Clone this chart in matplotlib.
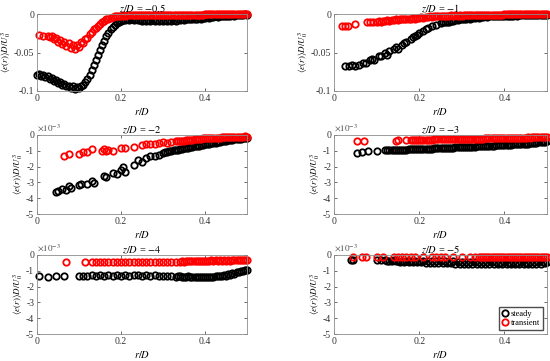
import matplotlib
matplotlib.use("Agg")
import matplotlib.pyplot as plt

plt.rcParams['font.family'] = ['Liberation Serif', 'DejaVu Serif']
plt.rcParams['mathtext.fontset'] = 'stix'
plt.rcParams['axes.unicode_minus'] = False

# ---- data ----
r_grid = [0.00, 0.01, 0.02, 0.03, 0.04, 0.05, 0.06, 0.07, 0.08, 0.09,
          0.10, 0.11, 0.12, 0.13, 0.14, 0.15, 0.16, 0.17, 0.18, 0.19,
          0.20, 0.21, 0.22, 0.23, 0.24, 0.25, 0.26, 0.27, 0.28, 0.29,
          0.30, 0.31, 0.32, 0.33, 0.34, 0.35, 0.36, 0.37, 0.38, 0.39,
          0.40, 0.41, 0.42, 0.43, 0.44, 0.45, 0.46, 0.47, 0.48, 0.49, 0.50]
# second set of sample positions where the measured points are dense
r_half = [0.005, 0.015, 0.025, 0.035, 0.045, 0.055, 0.065, 0.075, 0.085, 0.095,
          0.105, 0.115, 0.125, 0.135, 0.145, 0.155, 0.165, 0.175, 0.185, 0.195,
          0.205, 0.215, 0.225, 0.235, 0.245, 0.255, 0.265, 0.275, 0.285, 0.295,
          0.305, 0.315, 0.325, 0.335, 0.345, 0.355, 0.365, 0.375, 0.385, 0.395,
          0.405, 0.415, 0.425, 0.435, 0.445, 0.455, 0.465, 0.475, 0.485, 0.495]

# z/D = -0.5
steady_05 = [-0.079, -0.080, -0.082, -0.084, -0.087, -0.089, -0.092, -0.094, -0.096, -0.097,
             -0.096, -0.092, -0.084, -0.073, -0.060, -0.047, -0.035, -0.025, -0.017, -0.012,
             -0.009, -0.008, -0.008, -0.008, -0.008, -0.009, -0.009, -0.009, -0.009, -0.009,
             -0.009, -0.009, -0.009, -0.009, -0.008, -0.008, -0.007, -0.007, -0.006, -0.006,
             -0.005, -0.005, -0.004, -0.004, -0.003, -0.003, -0.002, -0.002, -0.001, -0.001, -0.001]
steady_05_b = [-0.078, -0.079, -0.081, -0.083, -0.086, -0.088, -0.091, -0.093, -0.094, -0.095,
               -0.093, -0.088, -0.079, -0.066, -0.053, -0.040, -0.029, -0.020, -0.014, -0.010,
               -0.008, -0.007, -0.007, -0.007, -0.008, -0.008, -0.008, -0.008, -0.008, -0.008,
               -0.008, -0.008, -0.008, -0.007, -0.007, -0.007, -0.006, -0.006, -0.005, -0.005,
               -0.004, -0.004, -0.003, -0.003, -0.002, -0.002, -0.001, -0.001, -0.001, 0.000]
r_trans_05 = [0.005, 0.015] + r_grid[3:]
trans_05 = [-0.027, -0.029,
            -0.030, -0.033, -0.036, -0.039, -0.042, -0.044, -0.045,
            -0.043, -0.038, -0.031, -0.024, -0.018, -0.013, -0.009, -0.006, -0.004, -0.003,
            -0.002, -0.002, -0.001, -0.001, -0.001, -0.001, -0.001, -0.001, -0.001, -0.001,
            -0.001, -0.001, -0.001, -0.001, -0.001, -0.001, -0.001, -0.001, -0.001, -0.001,
            0.000, 0.000, 0.000, 0.000, 0.000, 0.000, 0.000, 0.000, 0.000, 0.000, 0.000]
trans_05_b = [-0.028, -0.029, -0.031, -0.034, -0.036, -0.038, -0.040, -0.040,
              -0.037, -0.032, -0.026, -0.020, -0.015, -0.010, -0.007, -0.005, -0.003, -0.002,
              -0.001, -0.001, -0.001, -0.001, -0.001, -0.001, -0.001, -0.001, -0.001, -0.001,
              -0.001, -0.001, -0.001, -0.001, -0.001, -0.001, -0.001, -0.001, -0.001, -0.001,
              0.000, 0.000, 0.000, 0.000, 0.000, 0.000, 0.000, 0.000, 0.000, 0.000]

# z/D = -1
r_steady_1 = [0.026, 0.035, 0.042, 0.050, 0.058, 0.068, 0.075, 0.085, 0.090, 0.095,
              0.105, 0.110, 0.120, 0.125, 0.130, 0.140, 0.145, 0.150, 0.160, 0.165,
              0.170, 0.180, 0.185, 0.190, 0.195, 0.200, 0.210, 0.215, 0.220, 0.230,
              0.240, 0.250, 0.260, 0.270, 0.280, 0.290, 0.300, 0.310, 0.320, 0.330,
              0.340, 0.350, 0.360, 0.370, 0.380, 0.390, 0.400, 0.410, 0.420, 0.430,
              0.440, 0.450, 0.460, 0.470, 0.480, 0.490, 0.500]
steady_1 = [-0.067, -0.067, -0.066, -0.067, -0.066, -0.063, -0.064, -0.060, -0.058, -0.060,
            -0.055, -0.054, -0.051, -0.053, -0.048, -0.046, -0.043, -0.045, -0.040, -0.038,
            -0.036, -0.033, -0.030, -0.029, -0.027, -0.025, -0.022, -0.020, -0.018, -0.016,
            -0.014, -0.012, -0.011, -0.010, -0.009, -0.008, -0.007, -0.006, -0.006, -0.005,
            -0.005, -0.004, -0.004, -0.003, -0.003, -0.003, -0.002, -0.002, -0.002, -0.002,
            -0.001, -0.001, -0.001, -0.001, -0.001, -0.001, -0.001]
steady_1_b = [-0.011, -0.010, -0.009, -0.008, -0.007,
              -0.006, -0.005, -0.005, -0.004, -0.004, -0.003, -0.003, -0.003, -0.002, -0.002,
              -0.002, -0.002, -0.001, -0.001, -0.001, -0.001, -0.001, -0.001, -0.001, -0.001]
r_trans_1 = [0.018, 0.025, 0.032, 0.050, 0.078, 0.085, 0.092] + r_grid[10:]
trans_1 = [-0.015, -0.015, -0.015, -0.013, -0.011, -0.011, -0.011,
           -0.010, -0.010, -0.009, -0.009, -0.008, -0.008, -0.007, -0.007, -0.006, -0.006,
           -0.005, -0.005, -0.004, -0.004, -0.003, -0.003, -0.002, -0.002, -0.002, -0.002,
           -0.002, -0.001, -0.001, -0.001, -0.001, -0.001, -0.001, -0.001, -0.001, -0.001,
           -0.0005, -0.0005, -0.0005, -0.0005, -0.0005, -0.0005, -0.0005, -0.0005, -0.0005, -0.0005, -0.0005]
trans_1_b = [-0.009, -0.009, -0.008, -0.008, -0.007, -0.007, -0.006, -0.006, -0.005, -0.005,
             -0.004, -0.004, -0.003, -0.003, -0.002, -0.002, -0.002, -0.001, -0.001, -0.001,
             -0.001, -0.001, -0.001, -0.001, -0.001, -0.001, -0.001, -0.001, -0.001, -0.001,
             0.000, 0.000, 0.000, 0.000, 0.000, 0.000, 0.000, 0.000, 0.000, 0.000]

# z/D = -2  (values in 1e-3)
r_steady_2 = [0.045, 0.050, 0.060, 0.070, 0.075, 0.080, 0.100, 0.105, 0.120, 0.130,
              0.135, 0.160, 0.165, 0.180, 0.190, 0.200, 0.205, 0.210, 0.230, 0.240,
              0.250, 0.260, 0.270, 0.280, 0.290, 0.300, 0.310, 0.320, 0.330, 0.340,
              0.350, 0.360, 0.370, 0.380, 0.390, 0.400, 0.410, 0.420, 0.430, 0.440,
              0.450, 0.460, 0.470, 0.480, 0.490, 0.500]
steady_2 = [-3.60, -3.55, -3.40, -3.50, -3.20, -3.35, -3.15, -3.10, -3.10, -2.90,
            -3.05, -2.60, -2.65, -2.40, -2.45, -2.20, -2.05, -2.35, -1.90, -1.60,
            -1.70, -1.45, -1.35, -1.30, -1.25, -1.15, -1.05, -1.00, -0.95, -0.90,
            -0.85, -0.80, -0.75, -0.70, -0.65, -0.60, -0.55, -0.50, -0.45, -0.40,
            -0.35, -0.32, -0.28, -0.25, -0.22, -0.20]
steady_2_b = [-1.10, -1.02, -0.98, -0.92, -0.88, -0.82, -0.78, -0.72, -0.68, -0.62,
              -0.58, -0.52, -0.48, -0.42, -0.38, -0.34, -0.30, -0.27, -0.24, -0.21]
r_trans_2 = [0.065, 0.075, 0.100, 0.110, 0.120, 0.130, 0.155, 0.160, 0.165, 0.170,
             0.180, 0.200, 0.210, 0.230, 0.250, 0.260, 0.270, 0.280, 0.290, 0.300,
             0.310, 0.320, 0.330, 0.340, 0.350, 0.360, 0.370, 0.380, 0.390, 0.400,
             0.410, 0.420, 0.430, 0.440, 0.450, 0.460, 0.470, 0.480, 0.490, 0.500]
trans_2 = [-1.30, -1.20, -1.20, -1.10, -1.05, -0.90, -1.00, -0.90, -1.00, -0.95,
           -1.00, -0.85, -0.80, -0.75, -0.65, -0.60, -0.55, -0.60, -0.50, -0.45,
           -0.50, -0.45, -0.40, -0.35, -0.35, -0.30, -0.30, -0.25, -0.25, -0.20,
           -0.20, -0.18, -0.17, -0.15, -0.15, -0.13, -0.12, -0.12, -0.11, -0.10]
trans_2_b = [-0.38, -0.35, -0.32, -0.30, -0.27, -0.25, -0.22, -0.20, -0.19, -0.17,
             -0.16, -0.14, -0.13, -0.12, -0.11, -0.10, -0.09]

# z/D = -3
r_steady_3 = [0.055, 0.065, 0.080, 0.100] + r_grid[12:]
steady_3 = [-1.12, -1.05, -1.02, -1.00,
            -0.97, -0.96, -0.95, -0.94, -0.93, -0.92, -0.91, -0.90,
            -0.89, -0.88, -0.87, -0.86, -0.85, -0.84, -0.83, -0.81, -0.80, -0.78,
            -0.77, -0.76, -0.75, -0.73, -0.72, -0.71, -0.69, -0.68, -0.66, -0.65,
            -0.63, -0.62, -0.60, -0.59, -0.57, -0.55, -0.53, -0.50, -0.47, -0.44, -0.40]
steady_3_b = [-0.96, -0.95, -0.94, -0.93, -0.92, -0.91, -0.90, -0.89,
              -0.88, -0.87, -0.86, -0.85, -0.84, -0.83, -0.82, -0.80, -0.79, -0.77,
              -0.76, -0.75, -0.74, -0.72, -0.71, -0.70, -0.68, -0.67, -0.65, -0.64,
              -0.62, -0.61, -0.59, -0.58, -0.56, -0.54, -0.51, -0.48, -0.45, -0.42]
r_trans_3 = [0.055, 0.070, 0.145, 0.150, 0.170] + r_grid[18:]
trans_3 = [-0.35, -0.35, -0.35, -0.33, -0.33,
           -0.32, -0.31, -0.30, -0.30, -0.29, -0.29, -0.28, -0.28, -0.27, -0.27,
           -0.26, -0.26, -0.25, -0.25, -0.24, -0.24, -0.23, -0.23, -0.22, -0.22, -0.21,
           -0.21, -0.20, -0.20, -0.19, -0.18, -0.18, -0.17, -0.16, -0.15, -0.14, -0.13, -0.12]
trans_3_b = [-0.31, -0.30,
             -0.30, -0.29, -0.29, -0.28, -0.28, -0.27, -0.27, -0.26, -0.26, -0.25,
             -0.25, -0.24, -0.24, -0.23, -0.23, -0.22, -0.22, -0.21, -0.21, -0.20,
             -0.19, -0.19, -0.18, -0.17, -0.16, -0.15, -0.14, -0.13, -0.12, -0.11]

# z/D = -4
r_steady_4 = [0.005, 0.025, 0.045, 0.065, 0.100, 0.110] + r_grid[12:]
steady_4 = [-1.35, -1.37, -1.36, -1.35, -1.30, -1.33,
            -1.30, -1.27, -1.32, -1.28, -1.31, -1.27, -1.30, -1.26,
            -1.30, -1.27, -1.31, -1.25, -1.28, -1.30, -1.27, -1.31, -1.28, -1.32,
            -1.30, -1.36, -1.34, -1.37, -1.35, -1.38, -1.36, -1.39, -1.37, -1.40,
            -1.38, -1.40, -1.37, -1.36, -1.33, -1.30, -1.25, -1.18, -1.10, -1.02, -0.92]
steady_4_b = [-1.36, -1.38, -1.40, -1.41, -1.42, -1.41, -1.42, -1.40, -1.39, -1.36,
              -1.33, -1.28, -1.22, -1.15, -1.08, -1.00, -0.95]
r_trans_4 = [0.070, 0.115] + r_grid[13:]
trans_4 = [-0.42, -0.47,
           -0.47, -0.46, -0.47, -0.46, -0.46, -0.47, -0.46,
           -0.46, -0.45, -0.46, -0.45, -0.46, -0.45, -0.45, -0.45, -0.44, -0.45,
           -0.44, -0.44, -0.43, -0.43, -0.42, -0.42, -0.41, -0.41, -0.40, -0.40,
           -0.39, -0.39, -0.38, -0.37, -0.37, -0.36, -0.35, -0.34, -0.33, -0.32, -0.31]
trans_4_b = [-0.38, -0.37, -0.37, -0.36, -0.36, -0.35, -0.35, -0.34, -0.34, -0.33,
             -0.33, -0.32, -0.31, -0.30, -0.30, -0.29]

# z/D = -5
r_steady_5 = [0.040, 0.045, 0.100, 0.110] + r_grid[12:]
steady_5 = [-0.30, -0.32, -0.30, -0.32,
            -0.33, -0.35, -0.34, -0.36, -0.35, -0.37, -0.36, -0.38,
            -0.37, -0.39, -0.38, -0.40, -0.39, -0.41, -0.40, -0.42, -0.41, -0.43,
            -0.42, -0.44, -0.43, -0.45, -0.44, -0.46, -0.45, -0.47, -0.46, -0.48,
            -0.47, -0.48, -0.47, -0.48, -0.47, -0.48, -0.47, -0.47, -0.46, -0.46, -0.45]
steady_5_b = [-0.38, -0.40, -0.41, -0.42, -0.43, -0.44, -0.45, -0.46,
              -0.47, -0.48, -0.49, -0.50, -0.51, -0.52, -0.53, -0.53, -0.54, -0.54,
              -0.55, -0.55, -0.56, -0.56, -0.57, -0.57, -0.58, -0.58, -0.58, -0.59,
              -0.59, -0.59, -0.58, -0.58, -0.57, -0.57, -0.56, -0.55, -0.54, -0.53]
r_trans_5 = [0.045, 0.065, 0.075, 0.100, 0.115, 0.140, 0.150, 0.160, 0.170, 0.180,
             0.190, 0.210, 0.230, 0.240, 0.250, 0.260, 0.280, 0.300, 0.320, 0.330,
             0.340, 0.350, 0.360, 0.370, 0.380, 0.390, 0.400, 0.410, 0.420, 0.430,
             0.440, 0.450, 0.460, 0.470, 0.480, 0.490, 0.500]
trans_5 = [-0.10, -0.10, -0.10, -0.10, -0.10, -0.10, -0.10, -0.10, -0.10, -0.10,
           -0.10, -0.10, -0.10, -0.10, -0.10, -0.10, -0.10, -0.10, -0.10, -0.10,
           -0.10, -0.10, -0.10, -0.10, -0.10, -0.10, -0.10, -0.10, -0.10, -0.10,
           -0.10, -0.10, -0.10, -0.10, -0.10, -0.10, -0.10]
trans_5_b = [-0.10, -0.10, -0.10, -0.10, -0.10, -0.10, -0.10, -0.10,
             -0.10, -0.10, -0.10, -0.10, -0.10, -0.10, -0.10, -0.10]

# (title, steady r, steady, extra steady r, extra steady, transient r, transient, extra r, extra, scaled)
panels = [
    ("-0.5", r_grid, steady_05, r_half, steady_05_b, r_trans_05, trans_05, r_half[2:], trans_05_b, False),
    ("-1", r_steady_1, steady_1, r_half[25:], steady_1_b, r_trans_1, trans_1, r_half[10:], trans_1_b, False),
    ("-2", r_steady_2, steady_2, r_half[30:], steady_2_b, r_trans_2, trans_2, r_half[33:], trans_2_b, True),
    ("-3", r_steady_3, steady_3, r_half[12:], steady_3_b, r_trans_3, trans_3, r_half[18:], trans_3_b, True),
    ("-4", r_steady_4, steady_4, r_half[33:], steady_4_b, r_trans_4, trans_4, r_half[34:], trans_4_b, True),
    ("-5", r_steady_5, steady_5, r_half[12:], steady_5_b, r_trans_5, trans_5, r_half[34:], trans_5_b, True),
]

W, H = 550, 361
cols = [(37, 247), (334, 547)]
rows = [(14, 91), (135, 214), (255, 334)]

fig = plt.figure(figsize=(W / 100, H / 100), dpi=100)
fig.set_facecolor('white')

mk = dict(marker='o', linestyle='none', mfc='none', ms=4.6, mew=1.3, clip_on=False)

for i, (zd, rs, vs, rs2, vs2, rt, vt, rt2, vt2, scaled) in enumerate(panels):
    x0, x1 = cols[i % 2]
    y0, y1 = rows[i // 2]
    ax = fig.add_axes([x0 / W, 1 - y1 / H, (x1 - x0) / W, (y1 - y0) / H])
    ax.plot(rs, vs, color='black', label='steady', **mk)
    ax.plot(rs2, vs2, color='black', **mk)
    ax.plot(rt, vt, color='red', label='transient', **mk)
    ax.plot(rt2, vt2, color='red', **mk)
    ax.set_xlim(0, 0.5)
    ax.set_xticks([0, 0.2, 0.4])
    ax.set_xticklabels(['0', '0.2', '0.4'])
    if scaled:
        ax.set_ylim(-5, 0)
        ax.set_yticks([-5, -4, -3, -2, -1, 0])
        ax.set_yticklabels(['-5', '-4', '-3', '-2', '-1', '0'])
        ax.text(0.0, 1.02, r'$\times10^{-3}$', transform=ax.transAxes,
                fontsize=6.5, color='0.3', ha='left', va='bottom')
    else:
        ax.set_ylim(-0.1, 0)
        ax.set_yticks([-0.1, -0.05, 0])
        ax.set_yticklabels(['-0.1', '-0.05', '0'])
    ax.tick_params(direction='in', length=2.5, width=0.5, labelsize=7,
                   top=True, right=True, colors='0.2', pad=2)
    for s in ax.spines.values():
        s.set_color('0.55')
        s.set_linewidth(0.6)
    ax.set_title(r'$z/D$ = $' + zd + '$', fontsize=7.5, pad=1.5)
    ax.set_xlabel(r'$r/D$', fontsize=7.5, labelpad=2)
    ax.set_ylabel(r'$\langle\epsilon(r)\rangle D/U_0^3$', fontsize=6.5, labelpad=0.5)
    if i == 5:
        ax.legend(loc='lower right', fontsize=6, frameon=True, fancybox=False,
                  edgecolor='0.3', framealpha=1, handletextpad=0.2,
                  borderpad=0.3, labelspacing=0.2, handlelength=1.0,
                  borderaxespad=0.5)

fig.savefig('out.png', dpi=100)
